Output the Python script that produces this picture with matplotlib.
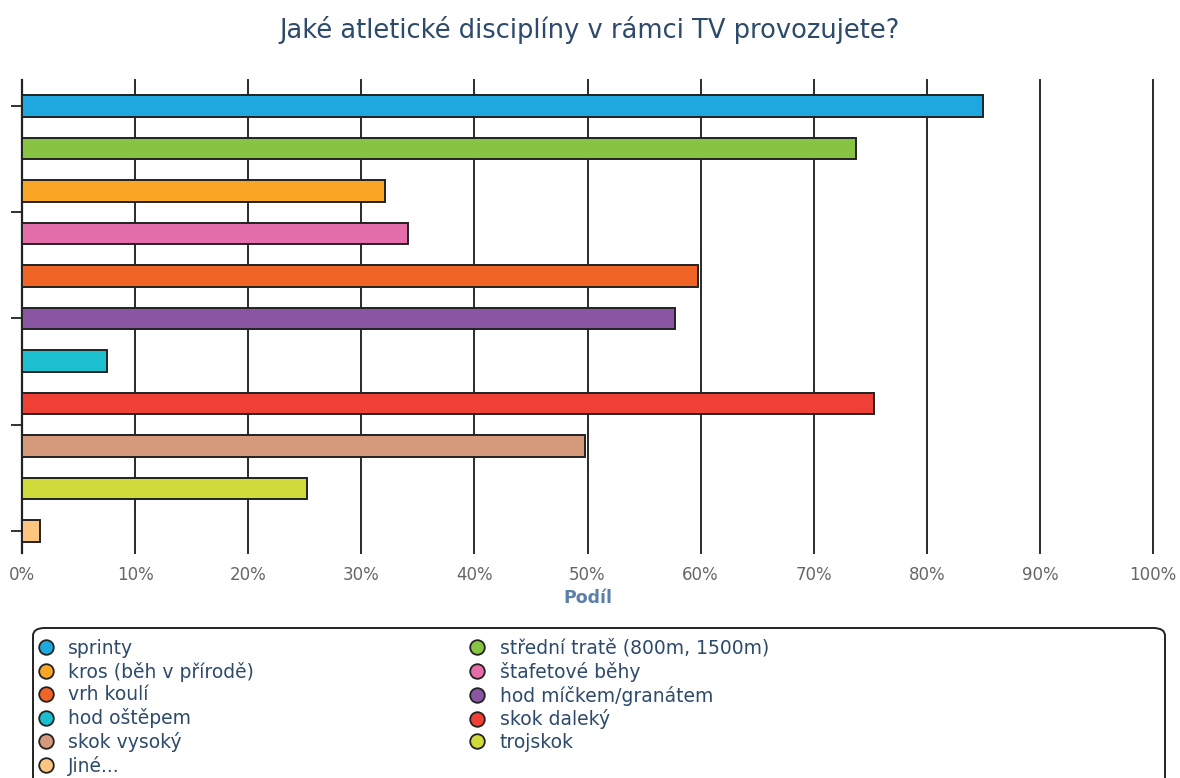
import matplotlib
matplotlib.use("Agg")
from matplotlib import pyplot as plt
from matplotlib.lines import Line2D
from matplotlib.patches import FancyBboxPatch

categories = ["sprinty", "střední tratě (800m, 1500m)", "kros (běh v přírodě)",
              "štafetové běhy", "vrh koulí", "hod míčkem/granátem", "hod oštěpem",
              "skok daleký", "skok vysoký", "trojskok", "Jiné..."]
values = [85.0, 73.7, 32.1, 34.1, 59.8, 57.7, 7.5, 75.3, 49.8, 25.2, 1.6]
colors = ["#1fa8df", "#88c444", "#f8a623", "#e46ea9", "#f06525", "#8a56a4",
          "#1cbfd0", "#ef4036", "#d49a7b", "#cfdb3b", "#fdc580"]
xticks = list(range(0, 101, 10))

title_col = "#2d4a6b"
plt.rcParams["font.family"] = ["DejaVu Sans"]

fig = plt.figure(figsize=(11.8, 7.78), dpi=100)
ax = fig.add_axes([22/1180, 1-553/778, (1153-22)/1180, (553-80)/778])

ypos = list(range(len(categories)))
ax.barh(ypos, values, height=0.5, color=colors, edgecolor="#222222",
        linewidth=1.4, zorder=3)

ax.set_xlim(0, 100)
ax.set_ylim(10.52, -0.61)
ax.set_xticks(xticks)
ax.set_xticklabels([f"{t}%" for t in xticks], fontsize=12, color="#666666")
ax.tick_params(axis="x", length=0, pad=9)
ax.set_yticks([0, 2.5, 5, 7.5, 10])
ax.set_yticklabels([])
ax.tick_params(axis="y", length=8, width=1.3, color="#222222", direction="out")
ax.grid(axis="x", color="#2a2a2a", linewidth=1.4, zorder=0)
for gl in ax.get_xgridlines():
    gl.set_clip_on(False)
for s in ["top", "right", "bottom"]:
    ax.spines[s].set_visible(False)
ax.spines["left"].set_linewidth(1.6)
ax.spines["left"].set_color("#222222")
ax.set_xlabel("Podíl", fontsize=12.5, fontweight="bold", color="#5a7fa8", labelpad=4)

fig.text(0.5, 1-30/778, "Jaké atletické disciplíny v rámci TV provozujete?",
         ha="center", va="center", fontsize=18.5, color=title_col)

# legend frame, running off the bottom edge
frame = FancyBboxPatch((33/1180, -0.05), (1165-33)/1180, (1-628/778)+0.05,
                       boxstyle="round,pad=0,rounding_size=0.01",
                       transform=fig.transFigure, facecolor="white",
                       edgecolor="#222222", linewidth=1.4)
fig.patches.append(frame)

handles = [Line2D([], [], linestyle="none", marker="o", markersize=10.5,
                  markerfacecolor=c, markeredgecolor="#222222", markeredgewidth=1.3)
           for c in colors]
order = [0, 2, 4, 6, 8, 10, 1, 3, 5, 7, 9]
leg = fig.legend([handles[i] for i in order], [categories[i] for i in order],
                 ncol=2, loc="upper left", bbox_to_anchor=(38/1180, 1-639/778),
                 frameon=False, fontsize=13.5, handlelength=0.8, handletextpad=0.8,
                 labelspacing=0.2, columnspacing=11.5, borderpad=0, borderaxespad=0)
for t in leg.get_texts():
    t.set_color(title_col)

fig.savefig("out.png", dpi=100)
